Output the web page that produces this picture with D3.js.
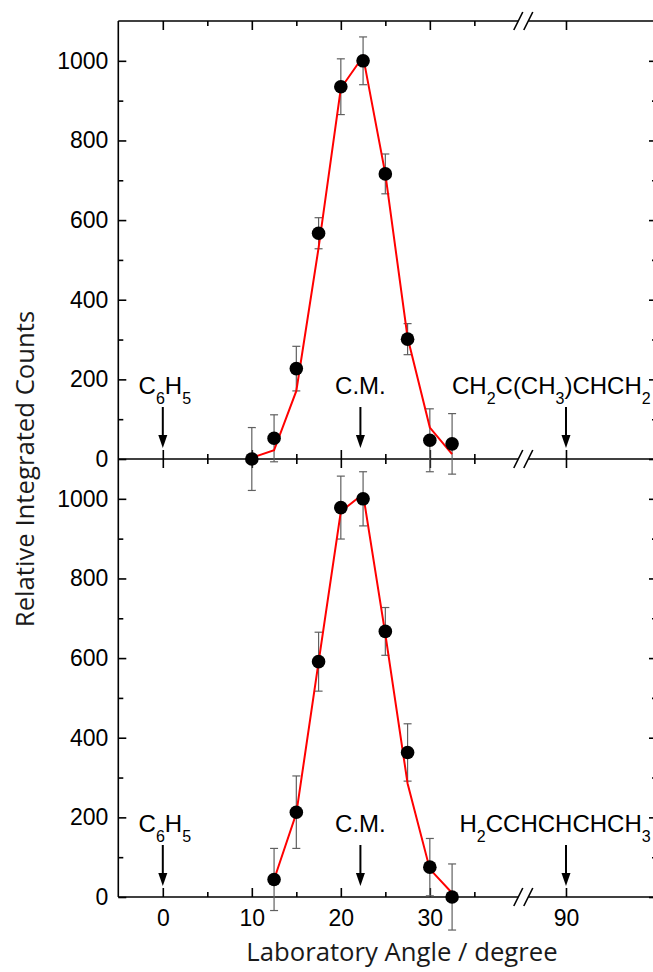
<!DOCTYPE html>
<html><head><meta charset="utf-8">
<script src="https://cdn.jsdelivr.net/npm/d3@7"></script>
<style>body{margin:0;background:#fff} svg{display:block}</style>
</head><body><svg id="c" width="653" height="972"></svg>
<script>
// ---- data ----
const anglesTop = [10, 12.5, 15, 17.5, 20, 22.5, 25, 27.5, 30, 32.5];
const countsTop = [0, 52, 227, 567, 935, 1000, 716, 301, 47, 38];
const errorsTop = [79, 59, 56, 39, 70, 60, 50, 39, 79, 76];
const fitTop    = [3, 22, 171, 530, 931, 1011, 716, 305, 79, 12];

const anglesBottom = [12.5, 15, 17.5, 20, 22.5, 25, 27.5, 30, 32.5];
const countsBottom = [44, 213, 591, 978, 1000, 667, 363, 75, 0];
const errorsBottom = [78, 91, 74, 79, 68, 60, 72, 72, 83];
const fitBottom    = [44, 210, 590, 968, 1012, 660, 285, 70, 10];

const xMajorTicks = [0, 10, 20, 30, 90];
const xMinorTicks = [5, 15, 25, 35];
const yMajorTicks = [0, 200, 400, 600, 800, 1000];
const yMinorTicks = [100, 300, 500, 700, 900];

const markerAngles = [0, 22.2, 90];
const markerLabelsTop = ["C_6H_5", "C.M.", "CH_2C(CH_3)CHCH_2"];
const markerLabelsBottom = ["C_6H_5", "C.M.", "H_2CCHCHCHCH_3"];

const xTitle = "Laboratory Angle / degree";
const yTitle = "Relative Integrated Counts";

// ---- layout ----
const svg = d3.select("#c");
const L = 118.3, R = 657, T = 21, M = 459, B = 897;
const breakX = 523.3;
const x = d3.scaleLinear().domain([-5, 40.5, 85.2, 100]).range([L, breakX, breakX, 654.9]);
const yTop = d3.scaleLinear().domain([0, 1100]).range([M, T]);
const yBot = d3.scaleLinear().domain([0, 1100]).range([B, M]);

const tickFont = "'Liberation Sans', Arial, sans-serif";
const tickSize = 23;
const axisStroke = 1.6;

function styleAxis(g) {
  g.select(".domain").remove();
  g.selectAll(".tick line").attr("stroke", "#000").attr("stroke-width", axisStroke);
  g.selectAll("text").attr("font-family", tickFont).attr("font-size", tickSize).attr("fill", "#000");
}

// horizontal axis lines with break gap
function hLine(y) {
  const g = svg.append("g");
  g.append("line").attr("x1", L).attr("x2", breakX - 5).attr("y1", y).attr("y2", y)
    .attr("stroke", "#000").attr("stroke-width", axisStroke);
  g.append("line").attr("x1", breakX + 5).attr("x2", R + 2).attr("y1", y).attr("y2", y)
    .attr("stroke", "#000").attr("stroke-width", axisStroke);
  [-5, 5].forEach(o => {
    g.append("line").attr("x1", breakX + o - 4.5).attr("y1", y + 9)
      .attr("x2", breakX + o + 4.5).attr("y2", y - 9)
      .attr("stroke", "#000").attr("stroke-width", axisStroke);
  });
}
[T, M, B].forEach(hLine);

// vertical axis lines
svg.append("line").attr("x1", L).attr("x2", L).attr("y1", T).attr("y2", B)
  .attr("stroke", "#000").attr("stroke-width", axisStroke);
svg.append("line").attr("x1", R).attr("x2", R).attr("y1", T).attr("y2", B)
  .attr("stroke", "#000").attr("stroke-width", axisStroke);

// x ticks: top border (down), middle (both), bottom (up, labelled)
function xTicks(y, dir, labelled) {
  svg.append("g").attr("transform", `translate(0,${y})`)
    .call(d3.axisBottom(x).tickValues(xMajorTicks).tickSize(dir * 9).tickPadding(13)
      .tickFormat(labelled ? d3.format("d") : () => ""))
    .call(styleAxis);
  svg.append("g").attr("transform", `translate(0,${y})`)
    .call(d3.axisBottom(x).tickValues(xMinorTicks).tickSize(dir * 5).tickFormat(() => ""))
    .call(styleAxis);
}
xTicks(T, 1, false);
xTicks(M, -1, false);
xTicks(M, 1, false);
xTicks(B, -1, true);

// y ticks
[yTop, yBot].forEach(ys => {
  svg.append("g").attr("transform", `translate(${L},0)`)
    .call(d3.axisLeft(ys).tickValues(yMajorTicks).tickSize(-8).tickPadding(10).tickFormat(d3.format("d")))
    .call(styleAxis);
  svg.append("g").attr("transform", `translate(${L},0)`)
    .call(d3.axisLeft(ys).tickValues(yMinorTicks).tickSize(-5).tickFormat(() => ""))
    .call(styleAxis);
  svg.append("g").attr("transform", `translate(${R},0)`)
    .call(d3.axisRight(ys).tickValues(yMajorTicks).tickSize(-8).tickFormat(() => ""))
    .call(styleAxis);
  svg.append("g").attr("transform", `translate(${R},0)`)
    .call(d3.axisRight(ys).tickValues(yMinorTicks).tickSize(-5).tickFormat(() => ""))
    .call(styleAxis);
});

// data panels
function panel(ys, angles, counts, errors, fit) {
  const g = svg.append("g");
  const pts = angles.map((a, i) => ({a, v: counts[i], e: errors[i], f: fit[i]}));
  const eb = g.append("g").attr("stroke", "#606060").attr("stroke-width", 1.2);
  pts.forEach(p => {
    const cx = x(p.a), y1 = ys(p.v + p.e), y2 = ys(p.v - p.e);
    eb.append("line").attr("x1", cx).attr("x2", cx).attr("y1", y1).attr("y2", y2);
    eb.append("line").attr("x1", cx - 4).attr("x2", cx + 4).attr("y1", y1).attr("y2", y1);
    eb.append("line").attr("x1", cx - 4).attr("x2", cx + 4).attr("y1", y2).attr("y2", y2);
  });
  g.append("path").datum(pts)
    .attr("d", d3.line().x(d => x(d.a)).y(d => ys(d.f)))
    .attr("fill", "none").attr("stroke", "#ff0000").attr("stroke-width", 2);
  g.selectAll("circle").data(pts).join("circle")
    .attr("cx", d => x(d.a)).attr("cy", d => ys(d.v)).attr("r", 6.8).attr("fill", "#000");
}
panel(yTop, anglesTop, countsTop, errorsTop, fitTop);
panel(yBot, anglesBottom, countsBottom, errorsBottom, fitBottom);

// formula text with subscripts
function formula(sel, str) {
  const parts = [];
  for (let i = 0; i < str.length; i++) {
    if (str[i] === "_") { parts.push({t: str[i + 1], sub: true}); i++; }
    else {
      if (parts.length && !parts[parts.length - 1].sub) parts[parts.length - 1].t += str[i];
      else parts.push({t: str[i], sub: false});
    }
  }
  let shifted = false;
  parts.forEach(p => {
    const ts = sel.append("tspan").text(p.t);
    if (p.sub) { ts.attr("font-size", 16).attr("dy", shifted ? 0 : 10); shifted = true; }
    else { ts.attr("dy", shifted ? -10 : 0); shifted = false; }
  });
}

function markers(y0, labels, longLabelStart) {
  markerAngles.forEach((a, i) => {
    const cx = x(a);
    svg.append("line").attr("x1", cx).attr("x2", cx).attr("y1", y0 - 52).attr("y2", y0 - 22)
      .attr("stroke", "#000").attr("stroke-width", 2);
    svg.append("path")
      .attr("d", `M${cx - 4.5},${y0 - 24}L${cx + 4.5},${y0 - 24}L${cx},${y0 - 11}Z`)
      .attr("fill", "#000");
    const t = svg.append("text").attr("y", y0 - 65)
      .attr("font-family", tickFont).attr("font-size", 24).attr("fill", "#000");
    if (i === 2) t.attr("x", cx + longLabelStart).attr("text-anchor", "start");
    else t.attr("x", cx + (i === 0 ? 2 : 0)).attr("text-anchor", "middle");
    formula(t, labels[i]);
  });
}
markers(M, markerLabelsTop, -114);
markers(B, markerLabelsBottom, -106.5);

// titles
const titleFont = "'Open Sans', 'Noto Sans', sans-serif";
svg.append("text").attr("x", 402).attr("y", 961).attr("text-anchor", "middle")
  .attr("font-family", titleFont).attr("font-size", 25.7).attr("fill", "#1a1a1a").text(xTitle);
svg.append("text").attr("transform", "translate(34,469) rotate(-90)").attr("text-anchor", "middle")
  .attr("font-family", titleFont).attr("font-size", 25.7).attr("fill", "#1a1a1a").text(yTitle);
</script></body></html>
